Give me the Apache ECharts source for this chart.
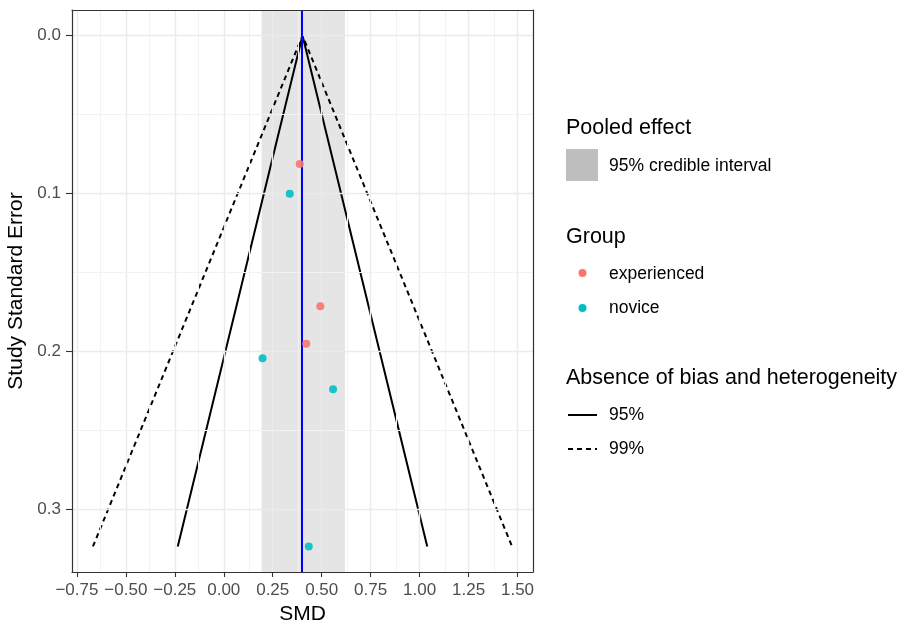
<!DOCTYPE html>
<html>
<head>
<meta charset="utf-8">
<script src="https://cdn.jsdelivr.net/npm/echarts@6/dist/echarts.min.js"></script>
<style>html,body{margin:0;padding:0;background:#fff}#chart{width:900px;height:623px}</style>
</head>
<body>
<div id="chart"></div>
<script>
// ---- data ----
const experiencedSMD = [0.388, 0.493, 0.421];
const experiencedSE  = [0.0814, 0.1715, 0.1953];
const noviceSMD = [0.337, 0.198, 0.558, 0.434];
const noviceSE  = [0.1003, 0.2046, 0.2242, 0.3238];
const pooledSMD = 0.402;
const credibleInterval = [0.193, 0.619];
const funnelSE = [0.3238, 0, 0.3238];
const funnel95SMD = [-0.235, 0.402, 1.039];
const funnel99SMD = [-0.668, 0.402, 1.472];
const xTicks = [-0.75, -0.5, -0.25, 0, 0.25, 0.5, 0.75, 1.0, 1.25, 1.5];
const xMinorTicks = [-0.625, -0.375, -0.125, 0.125, 0.375, 0.625, 0.875, 1.125, 1.375];
const yTicks = [0, 0.1, 0.2, 0.3];
const yMinorTicks = [0.05, 0.15, 0.25];
const xRange = [-0.775, 1.579];
const yRange = [-0.0162, 0.340];
const groupNames = ['experienced', 'novice'];
const lineNames = ['95%', '99%'];

const FONT = "'Liberation Sans', Arial, Helvetica, sans-serif";
const pts = (xs, ys) => xs.map((x, i) => [x, ys[i]]);
const fmtX = v => (v < 0 ? '\u2212' : '') + Math.abs(v).toFixed(2);

const chart = echarts.init(document.getElementById('chart'), null, {renderer: 'canvas'});

const gridLines = [];
xTicks.forEach(v => gridLines.push({xAxis: v, lineStyle: {color: '#EBEBEB', width: 1.4, type: 'solid'}}));
xMinorTicks.forEach(v => gridLines.push({xAxis: v, lineStyle: {color: '#F2F2F2', width: 1, type: 'solid'}}));
yTicks.forEach(v => gridLines.push({yAxis: v, lineStyle: {color: '#EBEBEB', width: 1.4, type: 'solid'}}));
yMinorTicks.forEach(v => gridLines.push({yAxis: v, lineStyle: {color: '#F2F2F2', width: 1, type: 'solid'}}));

const baseAxisX = {
  type: 'value', min: xRange[0], max: xRange[1],
  splitLine: {show: false}
};
const baseAxisY = {
  type: 'value', min: yRange[0], max: yRange[1], inverse: true,
  splitLine: {show: false}
};

const option = {
  backgroundColor: '#ffffff',
  animation: false,
  grid: {left: 72, right: 367, top: 10, bottom: 51, show: false, containLabel: false, outerBoundsMode: 'none'},
  xAxis: [
    Object.assign({}, baseAxisX, {
      position: 'bottom', z: 10,
      name: 'SMD', nameLocation: 'middle', nameGap: 31,
      nameTextStyle: {fontFamily: FONT, fontSize: 21, color: '#000'},
      axisLine: {show: true, onZero: false, lineStyle: {color: '#333333', width: 1.2}},
      axisTick: {show: true, length: 5, customValues: xTicks, lineStyle: {color: '#333333', width: 1.1}},
      axisLabel: {show: true, customValues: xTicks, formatter: fmtX, margin: 10,
                  fontFamily: FONT, fontSize: 17, color: '#4D4D4D'}
    }),
    Object.assign({}, baseAxisX, {
      position: 'top', z: 10,
      axisLine: {show: true, onZero: false, lineStyle: {color: '#333333', width: 1.2}},
      axisTick: {show: false}, axisLabel: {show: false}
    })
  ],
  yAxis: [
    Object.assign({}, baseAxisY, {
      position: 'left', z: 10,
      name: 'Study Standard Error', nameLocation: 'middle', nameGap: 35,
      nameTextStyle: {fontFamily: FONT, fontSize: 21, color: '#000'},
      axisLine: {show: true, onZero: false, lineStyle: {color: '#333333', width: 1.2}},
      axisTick: {show: true, length: 6, customValues: yTicks, lineStyle: {color: '#333333', width: 1.1}},
      axisLabel: {show: true, customValues: yTicks, formatter: v => v.toFixed(1), margin: 11,
                  fontFamily: FONT, fontSize: 17, color: '#4D4D4D'}
    }),
    Object.assign({}, baseAxisY, {
      position: 'right', z: 10,
      axisLine: {show: true, onZero: false, lineStyle: {color: '#333333', width: 1.2}},
      axisTick: {show: false}, axisLabel: {show: false}
    })
  ],
  series: [
    {
      name: 'grid', type: 'line', data: [], z: 1, silent: true,
      markLine: {silent: true, symbol: 'none', label: {show: false}, animation: false, data: gridLines}
    },
    {
      name: '95% credible interval', type: 'line', data: [], z: 2, silent: true,
      markArea: {silent: true, itemStyle: {color: 'rgba(190,190,190,0.4)'},
        data: [[{xAxis: credibleInterval[0]}, {xAxis: credibleInterval[1]}]]}
    },
    {
      name: '95%', type: 'line', z: 3, data: pts(funnel95SMD, funnelSE),
      showSymbol: false, symbol: 'none', lineStyle: {color: '#000', width: 2, type: 'solid'}
    },
    {
      name: '99%', type: 'line', z: 3, data: pts(funnel99SMD, funnelSE),
      showSymbol: false, symbol: 'none', lineStyle: {color: '#000', width: 2, type: [5, 4]}
    },
    {
      name: 'Pooled effect', type: 'line', data: [], z: 4, silent: true,
      markLine: {silent: true, symbol: 'none', label: {show: false},
        lineStyle: {color: '#0000FF', width: 2, type: 'solid'},
        data: [{xAxis: pooledSMD}]}
    },
    {
      name: groupNames[0], type: 'scatter', z: 5, symbolSize: 8,
      itemStyle: {color: '#F8766D', opacity: 0.9}, data: pts(experiencedSMD, experiencedSE)
    },
    {
      name: groupNames[1], type: 'scatter', z: 5, symbolSize: 8,
      itemStyle: {color: '#00BFC4', opacity: 0.9}, data: pts(noviceSMD, noviceSE)
    }
  ],
  graphic: [
    {type: 'text', x: 566, y: 128, style: {text: 'Pooled effect', fontFamily: FONT, fontSize: 21.5, fill: '#000', verticalAlign: 'middle'}},
    {type: 'rect', shape: {x: 566, y: 149, width: 32, height: 32}, style: {fill: '#BEBEBE'}},
    {type: 'text', x: 609, y: 166, style: {text: '95% credible interval', fontFamily: FONT, fontSize: 17.5, fill: '#000', verticalAlign: 'middle'}},

    {type: 'text', x: 566, y: 237, style: {text: 'Group', fontFamily: FONT, fontSize: 21.5, fill: '#000', verticalAlign: 'middle'}},
    {type: 'circle', shape: {cx: 582.5, cy: 273, r: 4}, style: {fill: '#F8766D'}},
    {type: 'text', x: 609, y: 274, style: {text: groupNames[0], fontFamily: FONT, fontSize: 17.5, fill: '#000', verticalAlign: 'middle'}},
    {type: 'circle', shape: {cx: 582.5, cy: 308, r: 4}, style: {fill: '#00BFC4'}},
    {type: 'text', x: 609, y: 308, style: {text: groupNames[1], fontFamily: FONT, fontSize: 17.5, fill: '#000', verticalAlign: 'middle'}},

    {type: 'text', x: 566, y: 378, style: {text: 'Absence of bias and heterogeneity', fontFamily: FONT, fontSize: 21.5, fill: '#000', verticalAlign: 'middle'}},
    {type: 'line', shape: {x1: 568, y1: 415, x2: 597, y2: 415}, style: {stroke: '#000', lineWidth: 2}},
    {type: 'text', x: 609, y: 415, style: {text: lineNames[0], fontFamily: FONT, fontSize: 17.5, fill: '#000', verticalAlign: 'middle'}},
    {type: 'line', shape: {x1: 568, y1: 449, x2: 597, y2: 449}, style: {stroke: '#000', lineWidth: 2, lineDash: [5, 4]}},
    {type: 'text', x: 609, y: 449, style: {text: lineNames[1], fontFamily: FONT, fontSize: 17.5, fill: '#000', verticalAlign: 'middle'}}
  ]
};
chart.setOption(option);
</script>
</body>
</html>
